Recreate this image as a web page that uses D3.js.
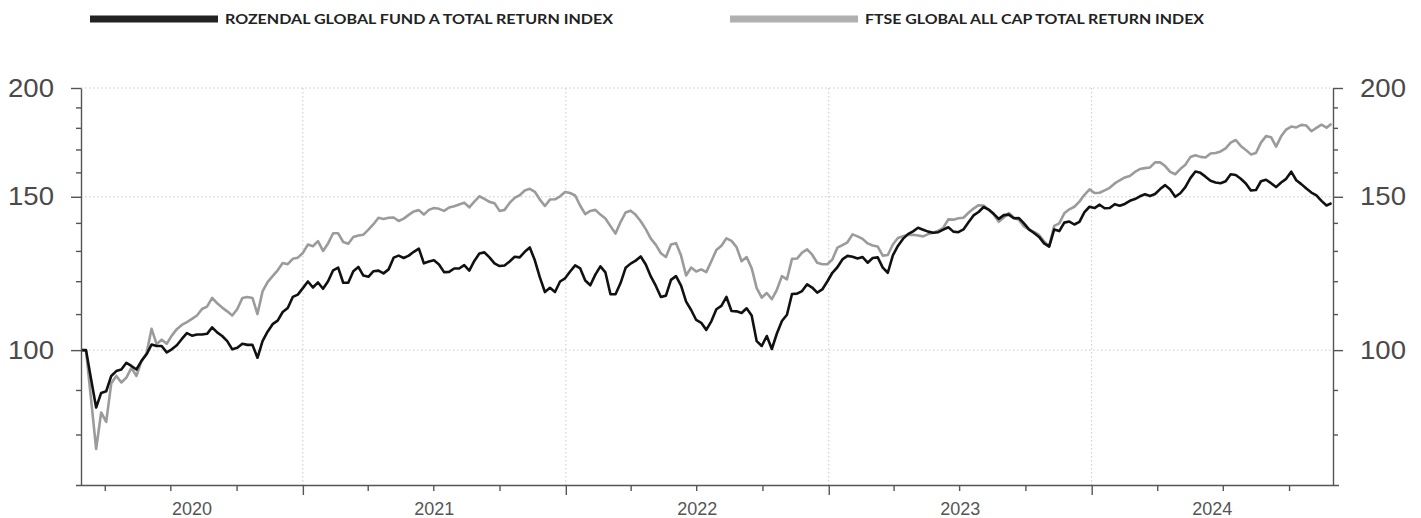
<!DOCTYPE html>
<html>
<head>
<meta charset="utf-8">
<script src="https://cdn.jsdelivr.net/npm/d3@7"></script>
<style>
  body { margin: 0; background: #fff; }
  .grid line { stroke: #c8c8c8; stroke-dasharray: 1.5,2.5; }
  .axis path, .axis line { stroke: #555; stroke-width: 1.4; }
  .axis text { fill: #4a4a4a; font-family: "Liberation Sans", Arial, sans-serif; }
  .legend text { font-family: Lato, "Open Sans", sans-serif; font-weight: 700; fill: #222; }
</style>
</head>
<body>
<script>
// weekly closes from 28 Feb 2020 (index, start = 100)
const seriesNames = ["ROZENDAL GLOBAL FUND A TOTAL RETURN INDEX", "FTSE GLOBAL ALL CAP TOTAL RETURN INDEX"];
const startDate = "2020-02-28";
const endDate = "2024-12-01";
const yearLabels = ["2020", "2021", "2022", "2023", "2024"];
const yMajorTicks = [100, 150, 200];
const yMinorTicks = [80, 90, 110, 120, 130, 140, 160, 170, 180, 190];

const rozendal = [
  100, 100, 92.6, 85.9, 89.3, 89.7, 93.4, 94.6, 95.0, 96.7,
  95.9, 95.0, 97.2, 98.9, 101.5, 101.1, 101.1, 99.4, 100.2, 101.3,
  103.0, 104.6, 103.9, 104.2, 104.2, 104.4, 106.2, 104.8, 103.8, 102.4,
  100.2, 100.6, 101.7, 101.4, 101.4, 98.0, 102.4, 105.0, 107.1, 108.1,
  110.6, 111.8, 115.1, 115.8, 117.8, 119.9, 118.0, 119.6, 117.6, 120.0,
  123.5, 124.4, 119.5, 119.5, 123.2, 124.6, 121.8, 121.4, 123.2, 123.4,
  122.5, 123.8, 127.7, 128.4, 127.6, 128.4, 129.7, 130.8, 125.8, 126.4,
  126.8, 125.4, 122.9, 123.0, 124.1, 124.1, 125.2, 123.4, 126.6, 129.1,
  129.5, 127.8, 125.8, 124.9, 125.1, 126.4, 128.0, 127.8, 129.7, 131.2,
  126.8, 121.2, 116.6, 117.9, 116.6, 119.9, 120.9, 123.1, 125.1, 124.1,
  120.2, 118.7, 122.1, 124.8, 122.8, 115.9, 115.9, 119.4, 124.3, 125.7,
  126.7, 128.1, 125.4, 121.5, 118.5, 115.1, 115.5, 120.4, 121.6, 118.6,
  113.7, 111.2, 108.3, 107.5, 105.5, 107.9, 111.4, 112.4, 115.1, 110.9,
  110.8, 110.3, 111.7, 109.6, 102.4, 101.1, 103.8, 100.3, 104.5, 108.0,
  109.8, 116.0, 116.1, 116.9, 119.0, 118.0, 116.4, 117.4, 119.9, 122.7,
  124.5, 127.1, 128.3, 128.0, 127.4, 127.9, 126.0, 127.6, 127.8, 124.4,
  122.7, 128.5, 131.7, 134.2, 135.9, 136.9, 138.2, 137.5, 136.8, 136.4,
  136.6, 137.5, 138.4, 136.8, 136.6, 137.6, 140.2, 142.8, 144.1, 146.0,
  145.0, 143.4, 141.5, 142.9, 143.1, 141.7, 141.8, 139.8, 137.6, 136.3,
  134.9, 132.6, 131.5, 137.6, 137.0, 140.1, 140.5, 139.4, 140.4, 144.0,
  146.1, 145.6, 146.9, 145.5, 145.6, 147.1, 146.5, 147.2, 148.4, 149.1,
  150.2, 151.0, 150.3, 151.1, 153.1, 154.7, 152.9, 150.0, 151.4, 153.9,
  157.6, 160.4, 159.8, 158.2, 156.5, 155.8, 155.5, 156.3, 159.2, 158.9,
  157.3, 155.4, 152.5, 152.7, 156.3, 156.9, 155.5, 153.9, 155.8, 157.3,
  160.3, 156.7, 155.1, 153.3, 151.7, 150.6, 148.4, 146.6, 147.5
];

const ftse = [
  100, 99.8, 87.8, 77.0, 84.8, 82.7, 91.6, 93.4, 91.8, 93.0,
  95.4, 93.4, 97.2, 99.2, 105.8, 101.6, 102.8, 101.7, 103.9, 105.7,
  106.9, 107.7, 108.6, 109.6, 111.5, 112.2, 114.8, 113.2, 111.9, 110.8,
  109.6, 111.5, 114.8, 115.1, 114.8, 110.0, 116.8, 119.7, 121.6, 123.5,
  125.9, 125.5, 127.3, 127.7, 129.3, 132.2, 131.6, 133.4, 130.0, 132.6,
  136.2, 136.2, 133.1, 132.5, 134.9, 135.4, 135.7, 137.5, 139.5, 141.9,
  141.4, 141.9, 142.0, 140.7, 141.6, 143.0, 144.3, 144.8, 143.1, 144.9,
  145.6, 145.3, 144.5, 145.8, 146.3, 147.0, 147.7, 145.9, 148.1, 150.2,
  149.2, 148.0, 147.5, 144.5, 144.9, 147.6, 149.6, 150.6, 152.5, 153.2,
  152.0, 148.9, 146.4, 148.9, 149.0, 150.2, 151.9, 151.5, 150.5, 146.5,
  143.3, 144.5, 144.9, 143.1, 141.6, 138.8, 136.1, 140.3, 143.9, 144.6,
  143.0, 140.6, 137.7, 134.3, 132.1, 129.2, 127.9, 132.2, 132.7, 128.4,
  121.8, 124.4, 123.1, 123.8, 122.9, 126.5, 130.3, 131.8, 134.4, 133.5,
  131.3, 126.5, 127.9, 124.2, 117.8, 114.9, 116.3, 114.4, 117.3, 121.6,
  120.6, 127.3, 127.4, 129.4, 130.5, 128.7, 126.0, 125.5, 125.5, 127.1,
  131.1, 132.0, 133.0, 135.8, 135.1, 134.2, 132.6, 131.9, 131.5, 128.4,
  128.6, 132.2, 134.5, 135.1, 135.6, 135.7, 135.4, 135.1, 135.9, 136.4,
  137.1, 138.2, 141.3, 141.2, 141.7, 141.9, 143.8, 145.4, 146.7, 146.6,
  144.9, 143.1, 140.4, 142.0, 143.7, 141.9, 141.1, 138.7, 137.5, 136.7,
  135.6, 133.3, 131.7, 138.9, 139.8, 143.6, 145.1, 146.1, 148.1, 150.8,
  153.0, 151.5, 151.6, 152.6, 153.6, 155.4, 156.7, 157.9, 158.5, 160.2,
  161.4, 161.8, 162.1, 164.3, 164.3, 162.7, 160.2, 159.2, 161.4, 163.3,
  166.6, 167.4, 166.7, 166.4, 168.2, 168.4, 169.1, 170.5, 173.1, 174.3,
  171.6, 169.8, 167.8, 168.4, 173.1, 176.1, 175.6, 171.3, 176.0, 179.2,
  180.6, 180.2, 181.4, 181.1, 178.4, 180.0, 181.5, 180.1, 182.0
];

const parseDate = d3.timeParse("%Y-%m-%d");
const t0 = parseDate(startDate);
const dates = rozendal.map((v, i) => d3.timeDay.offset(t0, 7 * i));

const svg = d3.select("body").append("svg")
    .attr("width", 1421)
    .attr("height", 518);

const margin = {top: 88, right: 88, bottom: 33, left: 81};
const width = 1421 - margin.left - margin.right;
const height = 518 - margin.top - margin.bottom;
const g = svg.append("g").attr("transform", "translate(" + margin.left + "," + margin.top + ")");

const x = d3.scaleTime().domain([t0, parseDate(endDate)]).range([0, width]);
const y = d3.scaleLog().domain([70, 200]).range([height, 0]);

// gridlines
g.append("g").attr("class", "grid")
    .selectAll("line").data(yMajorTicks).enter().append("line")
    .attr("x1", 0).attr("x2", width)
    .attr("y1", d => y(d)).attr("y2", d => y(d));

const yearStarts = d3.timeYear.range(d3.timeYear.ceil(t0), x.domain()[1]);
g.append("g").attr("class", "grid")
    .selectAll("line").data(yearStarts).enter().append("line")
    .attr("x1", d => x(d)).attr("x2", d => x(d))
    .attr("y1", 0).attr("y2", height);

// lines
const line = d3.line()
    .x((d, i) => x(dates[i]))
    .y(d => y(d));

g.append("path")
    .datum(ftse)
    .attr("fill", "none")
    .attr("stroke", "#9b9b9b")
    .attr("stroke-width", 2.6)
    .attr("stroke-linejoin", "round")
    .attr("d", line);

g.append("path")
    .datum(rozendal)
    .attr("fill", "none")
    .attr("stroke", "#111")
    .attr("stroke-width", 2.6)
    .attr("stroke-linejoin", "round")
    .attr("d", line);

// y axes: minor then major
const addYAxis = (axisFn, tx, flip) => {
    g.append("g").attr("class", "axis")
        .attr("transform", "translate(" + tx + ",0)")
        .call(axisFn(y).tickValues(yMinorTicks).tickSize(5).tickFormat(""))
        .call(s => s.select(".domain").remove());
    const major = g.append("g").attr("class", "axis")
        .attr("transform", "translate(" + tx + ",0)")
        .call(axisFn(y).tickValues(yMajorTicks).tickSize(10).tickSizeOuter(0).tickPadding(17).tickFormat(d3.format("d")));
    major.selectAll("text")
        .style("font-size", "25px")
        .attr("textLength", 46)
        .attr("lengthAdjust", "spacingAndGlyphs");
};
addYAxis(d3.axisLeft, 0);
addYAxis(d3.axisRight, width);

// x axis
const xAxis = g.append("g").attr("class", "axis")
    .attr("transform", "translate(0," + height + ")");
xAxis.call(d3.axisBottom(x).ticks(d3.timeMonth.every(3)).tickSizeOuter(0).tickFormat(""))
    .call(s => s.select(".domain").attr("d", "M-5,0.5H" + (width + 6)))
    .call(s => s.selectAll(".tick line").attr("y2", d => d.getMonth() === 0 ? 10 : 6));

// year labels centred over the visible part of each year
xAxis.selectAll(".year").data(yearLabels).enter().append("text")
    .attr("class", "year")
    .attr("x", d => {
        const a = d3.max([x(new Date(+d, 0, 1)), 0]);
        const b = d3.min([x(new Date(+d + 1, 0, 1)), width]);
        return (a + b) / 2;
    })
    .attr("y", 30)
    .attr("text-anchor", "middle")
    .style("font-size", "18px")
    .style("fill", "#555")
    .text(d => d);

// legend
const legend = svg.append("g").attr("class", "legend");
const legendItems = [
    {name: seriesNames[0], color: "#222", x: 90, w: 388},
    {name: seriesNames[1], color: "#b0b0b0", x: 730, w: 339}
];
legendItems.forEach(item => {
    legend.append("rect")
        .attr("x", item.x).attr("y", 15.5)
        .attr("width", 128).attr("height", 7)
        .attr("fill", item.color);
    legend.append("text")
        .attr("x", item.x + 135).attr("y", 24)
        .style("font-size", "13.5px")
        .attr("textLength", item.w)
        .attr("lengthAdjust", "spacingAndGlyphs")
        .text(item.name);
});
</script>
</body>
</html>
